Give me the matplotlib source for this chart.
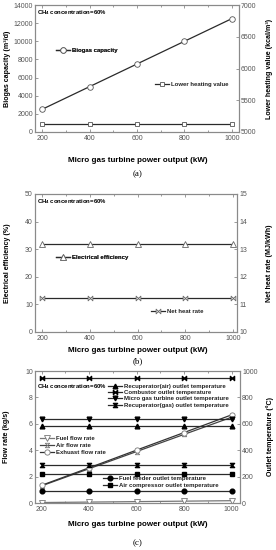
import matplotlib
matplotlib.use("Agg")
import matplotlib.pyplot as plt
from matplotlib.path import Path
import numpy as np

plt.rcParams['font.family'] = ['Liberation Sans', 'DejaVu Sans']
plt.rcParams['mathtext.fontset'] = 'custom'
plt.rcParams['mathtext.rm'] = 'Liberation Sans'
plt.rcParams['mathtext.bf'] = 'Liberation Sans:bold'

# ---------------- data ----------------
power_kw = [200, 400, 600, 800, 1000]

# (a)
biogas_capacity = [2500, 5000, 7500, 10000, 12500]          # m3/d
lower_heating_value = [5130, 5130, 5130, 5130, 5130]        # kcal/m3

# (b)
electrical_efficiency = [32, 32, 32, 32, 32]                # %
net_heat_rate = [11.25, 11.25, 11.25, 11.25, 11.25]         # MJ/kWh

# (c) flow rates (kg/s)
fuel_flow = [0.035, 0.07, 0.105, 0.14, 0.175]
air_flow = [1.3, 2.6, 3.9, 5.2, 6.5]
exhaust_flow = [1.34, 2.67, 4.01, 5.34, 6.68]
# (c) temperatures (degC)
recup_air_T = [580, 580, 580, 580, 580]
combustor_T = [950, 950, 950, 950, 950]
mgt_outlet_T = [635, 635, 635, 635, 635]
recup_gas_T = [290, 290, 290, 290, 290]
fuel_feeder_T = [90, 90, 90, 90, 90]
air_comp_T = [220, 220, 220, 220, 220]

W, H = 276, 550
fig = plt.figure(figsize=(W / 100, H / 100), dpi=100)

def rect(l, t, r, b):
    return [l / W, 1 - b / H, (r - l) / W, (b - t) / H]

LC = '#2a2a2a'
SP = '#8a8a8a'
TK = '#555555'
TS = 5.0
LS = 5.8
YLS = 5.1
LEG = 4.3

bowtie = Path([(-1, 1), (0, 0), (1, 1), (1, -1), (0, 0), (-1, -1), (-1, 1)],
              [Path.MOVETO] + [Path.LINETO] * 5 + [Path.CLOSEPOLY])
hourglass = Path([(-1, 1), (1, 1), (0, 0), (1, -1), (-1, -1), (0, 0), (-1, 1)],
                 [Path.MOVETO] + [Path.LINETO] * 5 + [Path.CLOSEPOLY])

def style(ax, ax2, xlim):
    ax.set_xlim(*xlim)
    for a in (ax, ax2):
        for s in a.spines.values():
            s.set_color(SP)
            s.set_linewidth(0.8)
    ax.set_xticks(power_kw)
    ax.set_xticks([300, 500, 700, 900], minor=True)
    ax.tick_params(axis='x', which='both', direction='in', top=True, colors=SP,
                   labelcolor=TK, labelsize=TS, length=2, width=0.6, pad=2)
    ax.tick_params(axis='x', which='minor', length=1.5)
    ax.tick_params(axis='y', which='both', direction='in', colors=SP,
                   labelcolor=TK, labelsize=TS, length=2, width=0.6, pad=1.5)
    ax2.tick_params(axis='y', which='both', direction='in', colors=SP,
                    labelcolor=TK, labelsize=TS, length=2, width=0.6, pad=1.5)

def leg(ax, handles, loc_xy, spacing=0.25):
    lg = ax.legend(handles=handles, loc='upper left', bbox_to_anchor=loc_xy,
                   frameon=False, handlelength=2.4, handletextpad=0.2,
                   borderpad=0, borderaxespad=0, labelspacing=spacing,
                   prop={'weight': 'bold', 'size': LEG})
    for t in lg.get_texts():
        t.set_color('#222222')
    return lg

ch4 = r'CH$_\mathbf{4}$ concentration=60%'

def letter(txt, y):
    fig.text(138 / W, 1 - y / H, txt, ha='center', va='center', fontsize=6.5,
             family='Liberation Serif')

def xlab(y):
    fig.text(138 / W, 1 - y / H, 'Micro gas turbine power output (kW)', ha='center',
             va='center', fontsize=LS, fontweight='bold')

# ---------------- (a) ----------------
ax = fig.add_axes(rect(35, 5, 239, 132))
ax2 = ax.twinx()
l1, = ax.plot(power_kw, biogas_capacity, color=LC, lw=0.9, marker='o', ms=4,
              mfc='white', mec='#555555', mew=0.6, label='Biogas capacity')
l2, = ax2.plot(power_kw, lower_heating_value, color=LC, lw=0.9, marker='s', ms=3.5,
               mfc='white', mec='#555555', mew=0.6, label='Lower heating value')
ax.set_ylim(0, 14000)
ax.set_yticks(np.arange(0, 14001, 2000))
ax2.set_ylim(5000, 7000)
ax2.set_yticks(np.arange(5000, 7001, 500))
style(ax, ax2, (170, 1030))
ax.set_ylabel('Biogas capacity (m\u00b3/d)', fontsize=YLS, fontweight='bold')
ax2.set_ylabel('Lower heating value (kcal/m\u00b3)', fontsize=YLS,
               fontweight='bold', rotation=90)
ax.yaxis.set_label_coords(-0.118, 0.5)
ax2.yaxis.set_label_coords(1.133, 0.5)
ax.text(0.012, 0.975, ch4, transform=ax.transAxes, ha='left', va='top',
        fontsize=LEG, fontweight='bold')
lg1 = leg(ax, [l1], ((56 - 35) / 204, (132 - 48) / 127))
ax.add_artist(lg1)
leg(ax2, [l2], ((155 - 35) / 204, (132 - 82) / 127))
xlab(160)
letter('(a)', 174)

# ---------------- (b) ----------------
bx = fig.add_axes(rect(35, 194, 237, 332))
bx2 = bx.twinx()
m1, = bx.plot(power_kw, electrical_efficiency, color=LC, lw=0.9, marker='^', ms=4,
              mfc='white', mec='#666666', mew=0.6, label='Electrical efficiency')
m2, = bx2.plot(power_kw, net_heat_rate, color=LC, lw=0.9, marker=bowtie, ms=3.4,
               mfc='white', mec='#666666', mew=0.6, label='Net heat rate')
bx.set_ylim(0, 50)
bx.set_yticks(np.arange(0, 51, 10))
bx2.set_ylim(10, 15)
bx2.set_yticks(np.arange(10, 16, 1))
style(bx, bx2, (169, 1017))
bx.set_ylabel('Electrical efficiency (%)', fontsize=YLS, fontweight='bold')
bx2.set_ylabel('Net heat rate (MJ/kWh)', fontsize=YLS, fontweight='bold', rotation=90)
bx.yaxis.set_label_coords(-0.12, 0.5)
bx2.yaxis.set_label_coords(1.145, 0.5)
bx.text(0.012, 0.975, ch4, transform=bx.transAxes, ha='left', va='top',
        fontsize=LEG, fontweight='bold')
lgb = leg(bx, [m1], ((56 - 35) / 202, (332 - 255) / 138))
bx.add_artist(lgb)
leg(bx2, [m2], ((151 - 35) / 202, (332 - 309) / 138))
xlab(350)
letter('(b)', 361)

# ---------------- (c) ----------------
cx = fig.add_axes(rect(35, 371, 240, 503))
cx2 = cx.twinx()
f1, = cx.plot(power_kw, fuel_flow, color='#777777', lw=0.9, marker='v', ms=3.8,
              mfc='white', mec='#777777', mew=0.6, label='Fuel flow rate')
f2, = cx.plot(power_kw, air_flow, color='#444444', lw=0.9, marker=hourglass, ms=3.2,
              mfc='white', mec='#777777', mew=0.6, label='Air flow rate')
f3, = cx.plot(power_kw, exhaust_flow, color='#333333', lw=0.9, marker='o', ms=3.8,
              mfc='white', mec='#777777', mew=0.6, label='Exhuast flow rate')
t1, = cx2.plot(power_kw, recup_air_T, color=LC, lw=0.9, marker='^', ms=3.4,
               mfc='k', mec='k', label='Recuperator(air) outlet temperature')
t2, = cx2.plot(power_kw, combustor_T, color=LC, lw=0.9, marker=bowtie, ms=3.0,
               mfc='k', mec='k', label='Combustor outlet temperature')
t3, = cx2.plot(power_kw, mgt_outlet_T, color=LC, lw=0.9, marker='v', ms=3.4,
               mfc='k', mec='k', label='Micro gas turbine outlet temperature')
t4, = cx2.plot(power_kw, recup_gas_T, color=LC, lw=0.9, marker=hourglass, ms=3.0,
               mfc='k', mec='k', label='Recuperator(gas) outlet temperature')
t5, = cx2.plot(power_kw, fuel_feeder_T, color=LC, lw=0.9, marker='o', ms=3.4,
               mfc='k', mec='k', label='Fuel feeder outlet temperature')
t6, = cx2.plot(power_kw, air_comp_T, color=LC, lw=0.9, marker='s', ms=3.0,
               mfc='k', mec='k', label='Air compressor outlet temperature')
cx.set_ylim(0, 10)
cx.set_yticks(np.arange(0, 11, 2))
cx2.set_ylim(0, 1000)
cx2.set_yticks(np.arange(0, 1001, 200))
style(cx, cx2, (172, 1035))
cx.set_ylabel('Flow rate (kg/s)', fontsize=YLS, fontweight='bold')
cx2.set_ylabel('Outlet temperature (\u00b0C)', fontsize=YLS, fontweight='bold',
               rotation=90)
cx.yaxis.set_label_coords(-0.12, 0.5)
cx2.yaxis.set_label_coords(1.125, 0.5)
cx.text(0.012, (503 - 387) / 132, ch4, transform=cx.transAxes, ha='left', va='center',
        fontsize=LEG, fontweight='bold')
lga = leg(cx2, [t1, t2, t3, t4], ((108 - 35) / 205, (503 - 383.5) / 132), spacing=0.2)
cx2.add_artist(lga)
lgc = leg(cx2, [t5, t6], ((103 - 35) / 205, (503 - 476) / 132), spacing=0.3)
cx2.add_artist(lgc)
leg(cx2, [f1, f2, f3], ((40 - 35) / 205, (503 - 436) / 132), spacing=0.3)
xlab(524)
letter('(c)', 543)

fig.savefig('out.png', dpi=100)
